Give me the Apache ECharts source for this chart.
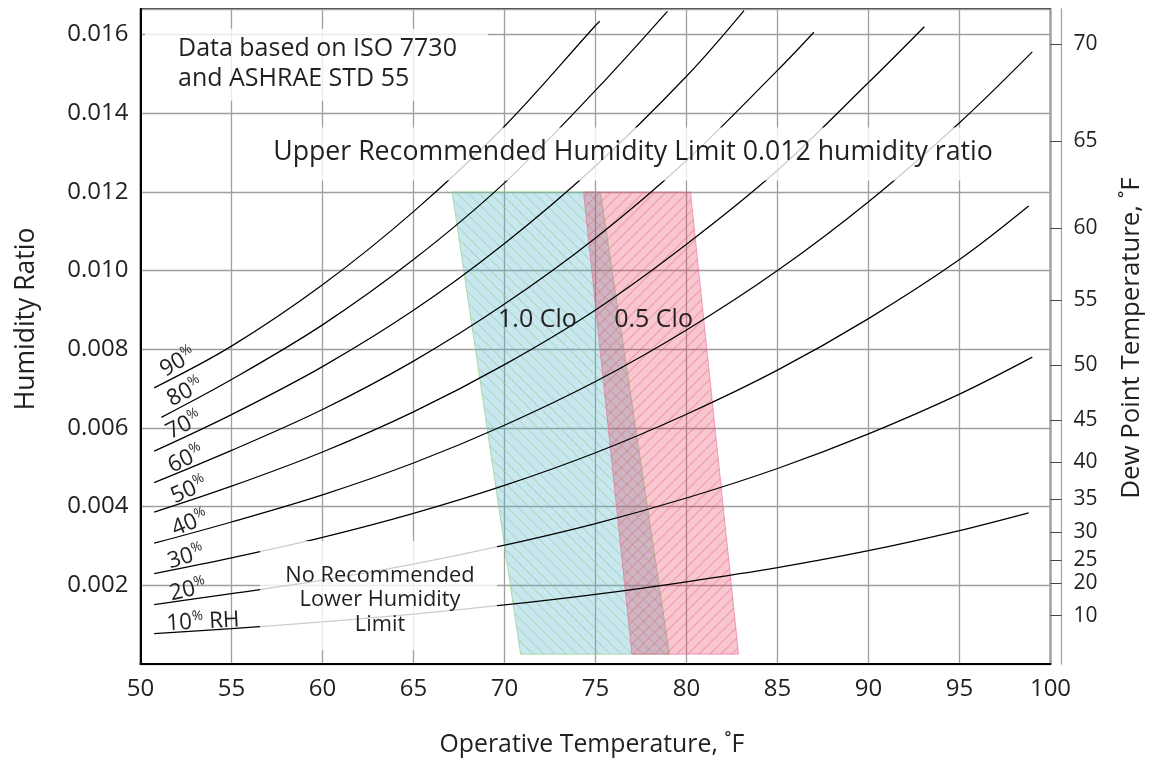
<!DOCTYPE html>
<html><head><meta charset="utf-8">
<script src="https://cdn.jsdelivr.net/npm/echarts@6/dist/echarts.min.js"></script>
<style>html,body{margin:0;padding:0;background:#fff}#c{width:1151px;height:762px}</style>
</head><body><div id="c"></div>
<script>
// ---- data ----
const xTickValues = [50, 55, 60, 65, 70, 75, 80, 85, 90, 95, 100];
const rhNames = ['10', '20', '30', '40', '50', '60', '70', '80', '90'];
const rh10 = [[50.75,0.00077],[55,0.00090],[60,0.00107],[65,0.00127],[70,0.00150],[75,0.00177],[80,0.00209],[85,0.00245],[90,0.00288],[95,0.00339],[98.8,0.00384]];
const rh20 = [[50.75,0.00151],[55,0.00179],[60,0.00213],[65,0.00254],[70,0.00302],[75,0.00357],[80,0.00422],[85,0.00497],[90,0.00585],[95,0.00686],[99,0.00780]];
const rh30 = [[50.75,0.00230],[55,0.00270],[60,0.00322],[65,0.00383],[70,0.00454],[75,0.00537],[80,0.00635],[85,0.00747],[90,0.00878],[95,0.01028],[98.8,0.01164]];
const rh40 = [[50.75,0.00307],[55,0.00361],[60,0.00430],[65,0.00511],[70,0.00607],[75,0.00718],[80,0.00849],[85,0.01000],[90,0.01175],[95,0.01376],[99,0.01556]];
const rh50 = [[50.75,0.00386],[55,0.00452],[60,0.00539],[65,0.00641],[70,0.00761],[75,0.00900],[80,0.01067],[85,0.01255],[90,0.01478],[93.07,0.01620]];
const rh60 = [[50.75,0.00461],[55,0.00543],[60,0.00647],[65,0.00770],[70,0.00915],[75,0.01083],[80,0.01280],[85,0.01509],[87,0.01606]];
const rh70 = [[50.75,0.00541],[55,0.00634],[60,0.00756],[65,0.00899],[70,0.01069],[75,0.01266],[80,0.01494],[83.16,0.01661]];
const rh80 = [[51.15,0.00627],[55,0.00723],[60,0.00862],[65,0.01028],[70,0.01223],[75,0.01458],[78.95,0.01659]];
const rh90 = [[50.75,0.00702],[55,0.00808],[60,0.00964],[65,0.01150],[70,0.01367],[75,0.01623],[75.23,0.01634]];
const clo10 = [[67.12,0.012],[75.27,0.012],[79.06,0.00025],[70.88,0.00025]];
const clo05 = [[74.34,0.012],[80.22,0.012],[82.86,0.00025],[77.0,0.00025]];
const dewPointLabels = [10, 20, 25, 30, 35, 40, 45, 50, 55, 60, 65, 70];
const dewPointRatio = [0.001227,0.002065,0.002634,0.003345,0.004190,0.005123,0.006197,0.007594,0.009244,0.011073,0.013283,0.015764];

// ---- styling / layout ----
const FF = "'Open Sans', 'Noto Sans', sans-serif";
const TXT = '#231f20';
const rhSeriesData = [rh10, rh20, rh30, rh40, rh50, rh60, rh70, rh80, rh90];
const rhLabelPos = [[53.43,0.00107],[52.61,0.00188],[52.5,0.00272],[52.72,0.00358],[52.66,0.00442],[52.5,0.00521],[52.39,0.00607],[52.45,0.00691],[52.06,0.00767]];
const rhLabelRot = [3, 13, 17, 22, 24, 26, 27, 28, 30];

function hatch(color, dir) {
  const s = 11, c = document.createElement('canvas');
  c.width = s; c.height = s;
  const g = c.getContext('2d');
  g.strokeStyle = color; g.lineWidth = 1.2;
  g.beginPath();
  if (dir > 0) { // '/'
    g.moveTo(-1, s + 1); g.lineTo(s + 1, -1);
    g.moveTo(-2, 2); g.lineTo(2, -2);
    g.moveTo(s - 2, s + 2); g.lineTo(s + 2, s - 2);
  } else { // '\'
    g.moveTo(-1, -1); g.lineTo(s + 1, s + 1);
    g.moveTo(-2, s - 2); g.lineTo(2, s + 2);
    g.moveTo(s - 2, -2); g.lineTo(s + 2, 2);
  }
  g.stroke();
  return c;
}

const zones = [
  { pts: clo10, fill: 'rgba(72,175,205,0.30)', stroke: 'rgba(150,210,140,0.7)', pattern: hatch('rgba(140,205,135,0.45)', -1) },
  { pts: clo05, fill: 'rgba(229,44,74,0.27)', stroke: 'rgba(230,110,150,0.6)', pattern: hatch('rgba(230,90,130,0.40)', 1) }
];

const notes = [
  { text: 'Data based on ISO 7730\nand ASHRAE STD 55', at: [52.06, 0.015263], align: 'left', size: 25, lh: 30,
    box: [50.25, 0.01615, 69.09, 0.01432] },
  { text: 'Upper Recommended Humidity Limit 0.012 humidity ratio', at: [77.06, 0.013003], align: 'center', size: 26.7, lh: 30,
    box: [56.68, 0.013638, 97.2, 0.012292] },
  { text: 'No Recommended\nLower Humidity\nLimit', at: [63.16, 0.001625], align: 'center', size: 21.8, lh: 24.5,
    box: [56.57, 0.003124, 69.59, 0.000356] },
  { text: '1.0 Clo', at: [71.81, 0.008737], align: 'center', size: 25, lh: 30 },
  { text: '0.5 Clo', at: [78.19, 0.008737], align: 'center', size: 25, lh: 30 }
];

const chart = echarts.init(document.getElementById('c'), null, { renderer: 'canvas' });

const lineSeries = rhSeriesData.map((d, i) => ({
  type: 'line', name: rhNames[i] + '%', data: d, smooth: 0.35, showSymbol: false, silent: true,
  z: 3, lineStyle: { color: '#000', width: 1.25 }
}));

const option = {
  animation: false,
  backgroundColor: '#fff',
  grid: { left: 140.5, right: 100.5, top: 9, bottom: 98, show: true, borderColor: '#000', borderWidth: 1.5,
          backgroundColor: 'transparent', outerBoundsMode: 'none', containLabel: false },
  xAxis: {
    type: 'value', min: xTickValues[0], max: xTickValues[xTickValues.length - 1], interval: 5,
    axisLine: { lineStyle: { color: '#000', width: 2 } },
    axisTick: { show: false },
    axisLabel: { fontSize: 24, fontFamily: FF, color: TXT, margin: 13 },
    splitLine: { show: true, lineStyle: { color: '#9f9f9f', width: 1.3 } }
  },
  yAxis: [
    {
      type: 'value', min: 0, max: 0.01665, interval: 0.002,
      axisLine: { show: true, lineStyle: { color: '#000', width: 2 } },
      axisTick: { show: false },
      axisLabel: { fontSize: 24, fontFamily: FF, color: TXT, margin: 12,
        formatter: v => (v > 0.0001 && v < 0.0165) ? v.toFixed(3) : '' },
      splitLine: { show: true, lineStyle: { color: '#9f9f9f', width: 1.3 } }
    },
    {
      type: 'value', position: 'right', offset: 11, min: 0, max: 0.01665,
      axisLine: { show: true, lineStyle: { color: '#a5a5a5', width: 1.3 } },
      axisTick: { show: true, inside: true, length: 11, customValues: dewPointRatio, lineStyle: { color: '#444', width: 1 } },
      axisLabel: { customValues: dewPointRatio, fontSize: 21, fontFamily: FF, color: TXT, margin: 12,
        formatter: v => { const i = dewPointRatio.findIndex(r => Math.abs(r - v) < 1e-9); return i >= 0 ? String(dewPointLabels[i]) : ''; } },
      splitLine: { show: false }
    }
  ],
  graphic: [
    { type: 'text', x: 592, y: 745, style: { text: 'Operative Temperature, ˚F', font: '24.8px ' + FF, fill: TXT, align: 'center', verticalAlign: 'middle' } },
    { type: 'text', x: 26, y: 319, rotation: Math.PI / 2, style: { text: 'Humidity Ratio', font: '26.5px ' + FF, fill: TXT, align: 'center', verticalAlign: 'middle' } },
    { type: 'text', x: 1132, y: 338, rotation: Math.PI / 2, style: { text: 'Dew Point Temperature, ˚F', font: '25.8px ' + FF, fill: TXT, align: 'center', verticalAlign: 'middle' } }
  ],
  series: [
    {
      type: 'custom', name: 'zones', z: 1, silent: true,
      data: zones.map(z => z.pts[0]),
      renderItem: (params, api) => {
        const z = zones[params.dataIndex];
        const pts = z.pts.map(p => api.coord(p));
        return { type: 'group', children: [
          { type: 'polygon', shape: { points: pts }, style: { fill: z.fill, stroke: z.stroke, lineWidth: 1 } },
          { type: 'polygon', shape: { points: pts }, style: { fill: { image: z.pattern, repeat: 'repeat' } } }
        ] };
      }
    },
    ...lineSeries,
    {
      type: 'custom', name: 'notes', z: 6, silent: true,
      data: [[50, 0]],
      renderItem: (params, api) => {
        const children = [];
        notes.forEach(n => {
          if (n.box) {
            const a = api.coord([n.box[0], n.box[1]]), b = api.coord([n.box[2], n.box[3]]);
            children.push({ type: 'rect', shape: { x: a[0], y: a[1], width: b[0] - a[0], height: b[1] - a[1] },
              style: { fill: 'rgba(255,255,255,0.8)' } });
          }
        });
        notes.forEach(n => {
          const p = api.coord(n.at);
          children.push({ type: 'text', x: p[0], y: p[1],
            style: { text: n.text, font: n.size + 'px ' + FF, fill: TXT, align: n.align, verticalAlign: 'middle', lineHeight: n.lh } });
        });
        rhNames.forEach((name, i) => {
          const p = api.coord(rhLabelPos[i]);
          const txt = i === 0 ? '{n|' + name + '}{p|%}{n| RH}' : '{n|' + name + '}{p|%}';
          children.push({ type: 'text', x: p[0], y: p[1], rotation: rhLabelRot[i] * Math.PI / 180,
            style: { text: txt, align: 'center', verticalAlign: 'middle',
              rich: { n: { font: '22.5px ' + FF, fill: TXT, lineHeight: 26 },
                      p: { font: '13.5px ' + FF, fill: TXT, lineHeight: 26, verticalAlign: 'top' } } } });
        });
        return { type: 'group', children };
      }
    }
  ]
};
chart.setOption(option);
</script>
</body></html>
